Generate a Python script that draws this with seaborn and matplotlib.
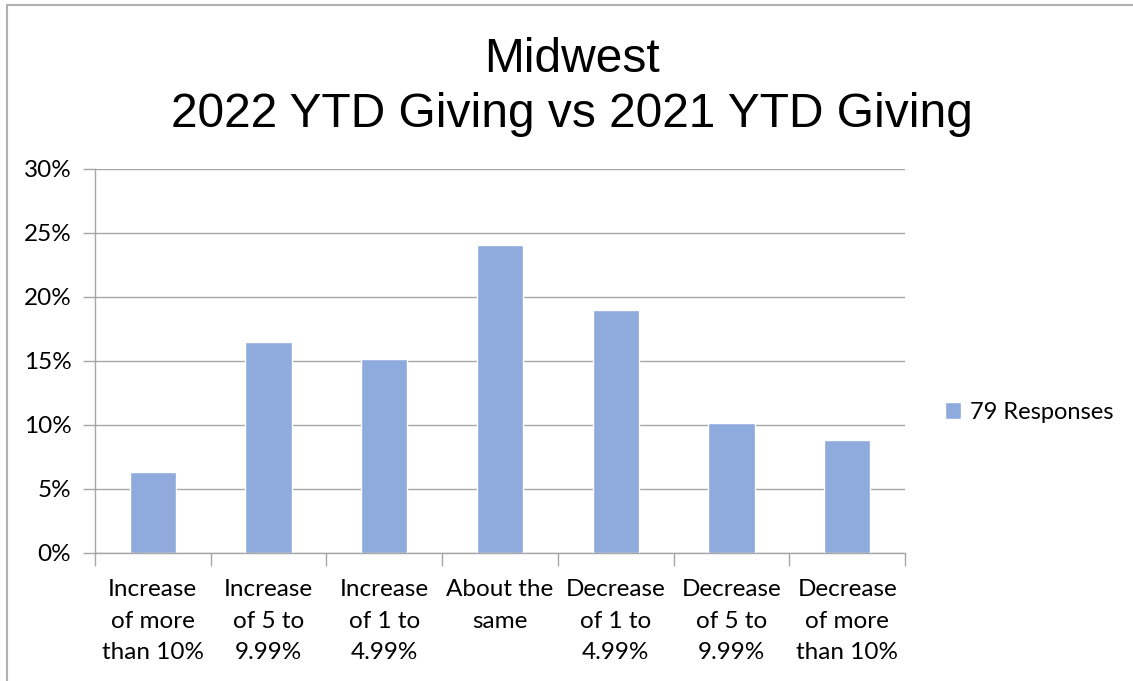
import pandas as pd
import matplotlib.pyplot as plt
import seaborn as sns
from matplotlib.ticker import PercentFormatter, FixedLocator
from matplotlib.patches import Rectangle

# chart data (79 responses)
categories = ["Increase\nof more\nthan 10%", "Increase\nof 5 to\n9.99%", "Increase\nof 1 to\n4.99%",
              "About the\nsame", "Decrease\nof 1 to\n4.99%", "Decrease\nof 5 to\n9.99%",
              "Decrease\nof more\nthan 10%"]
shares = [6.33, 16.46, 15.19, 24.05, 18.99, 10.13, 8.86]
y_ticks = [0, 5, 10, 15, 20, 25, 30]
series_name = "79 Responses"

df = pd.DataFrame({"Category": categories, "Share": shares})

sns.set_style("white")
plt.rcParams["font.family"] = ["Lato", "DejaVu Sans"]
plt.rcParams["text.color"] = "black"
plt.rcParams["xtick.color"] = "black"
plt.rcParams["ytick.color"] = "black"

fig = plt.figure(figsize=(11.33, 6.81), dpi=100)
ax = fig.add_axes([0.0838, 0.188, 0.715, 0.5639])

sns.barplot(data=df, x="Category", y="Share", color="#8faadc", width=0.4,
            saturation=1, label=series_name, ax=ax)

grid_c = "#a6a6a6"
ax.set_ylim(0, 30)
ax.set_xlim(-0.5, len(categories) - 0.5)
ax.set_yticks(y_ticks)
ax.yaxis.set_major_formatter(PercentFormatter(decimals=0))
ax.grid(axis="y", color=grid_c, linewidth=1)
ax.set_axisbelow(True)

# ticks on category boundaries, labels at centres
ax.xaxis.set_major_locator(FixedLocator([i - 0.5 for i in range(len(categories) + 1)]))
ax.xaxis.set_major_formatter(plt.NullFormatter())
ax.xaxis.set_minor_locator(FixedLocator(list(range(len(categories)))))
ax.set_xticklabels(categories, minor=True)
ax.tick_params(axis="x", which="major", direction="out", length=9, color=grid_c, width=1, bottom=True)
ax.tick_params(axis="x", which="minor", length=0, pad=19, labelsize=17.5)
ax.tick_params(axis="y", direction="out", length=9, color=grid_c, width=1, left=True,
               labelsize=17.5, pad=8)
for lbl in ax.get_xticklabels(minor=True):
    lbl.set_linespacing(1.62)
ax.set_xlabel("")
ax.set_ylabel("")

for side in ["top", "right"]:
    ax.spines[side].set_visible(False)
for side in ["left", "bottom"]:
    ax.spines[side].set_color(grid_c)
    ax.spines[side].set_linewidth(1)

ax.legend(loc="center left", bbox_to_anchor=(0.834, 0.395), bbox_transform=fig.transFigure,
          frameon=False, fontsize=17, handlelength=0.7, handleheight=0.7, handletextpad=0.35,
          borderpad=0, borderaxespad=0)

fig.text(0.505, 1 - 72 / 681, "Midwest", ha="center", va="baseline", fontsize=34.5,
         family="Liberation Sans", color="black")
fig.text(0.505, 1 - 127 / 681, "2022 YTD Giving vs 2021 YTD Giving", ha="center",
         va="baseline", fontsize=34.5, family="Liberation Sans", color="black")

# chart frame
fig.patches.append(Rectangle((7 / 1133, -0.1), 1.1, 1 - 5 / 681 + 0.1, transform=fig.transFigure,
                             fill=False, edgecolor="#b0b0b0", linewidth=1.5))

fig.savefig("out.png", dpi=100)
